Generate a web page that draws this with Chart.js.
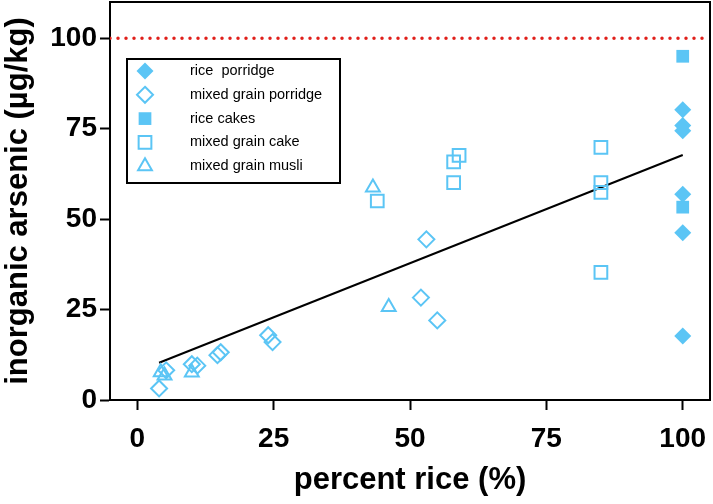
<!DOCTYPE html>
<html lang="en">
<head>
  <meta charset="UTF-8">
  <title>Inorganic arsenic vs percent rice</title>
  <style>
    body { margin: 0; padding: 0; background: #fff; }
    canvas { display: block; }
  </style>
</head>
<body>
  <canvas id="chart" width="713" height="504"></canvas>

  <script src="https://cdn.jsdelivr.net/npm/chart.js"></script>
  <script>
    // Data
    const ricePorridgeX = [100, 100, 100, 100, 100, 100];
    const ricePorridgeY = [80.2, 75.9, 74.4, 56.9, 46.2, 17.7];

    const mixedPorridgeX = [4, 5.3, 10, 11, 14.7, 15.3, 24, 24.8, 52, 53, 55];
    const mixedPorridgeY = [3.2, 8.2, 9.9, 9.5, 12.4, 13.2, 17.9, 16.0, 28.3, 44.4, 22.0];

    const riceCakesX = [100, 100];
    const riceCakesY = [95.0, 53.3];

    const mixedCakeX = [44, 58, 58, 59, 85, 85, 85, 85];
    const mixedCakeY = [55.0, 60.1, 65.8, 67.6, 69.8, 60.1, 57.4, 35.3];

    const musliX = [4.3, 5, 10, 43.2, 46.1];
    const musliY = [7.7, 6.8, 7.6, 58.7, 25.7];

    // fitted line, end points as drawn
    const fitX = [4, 100];
    const fitY = [10.3, 67.7];

    // limit line
    const limitX = [-5, 105];
    const limitY = [100, 100];

    const tickValues = [0, 25, 50, 75, 100];

    const blue = '#5bc5f5';
    const pts = (xs, ys) => xs.map((x, i) => ({ x: x, y: ys[i] }));

    const series = [
      { label: 'rice  porridge', style: 'rectRot', filled: true, x: ricePorridgeX, y: ricePorridgeY, r: 8.5 },
      { label: 'mixed grain porridge', style: 'rectRot', filled: false, x: mixedPorridgeX, y: mixedPorridgeY, r: 8 },
      { label: 'rice cakes', style: 'rect', filled: true, x: riceCakesX, y: riceCakesY, r: 9 },
      { label: 'mixed grain cake', style: 'rect', filled: false, x: mixedCakeX, y: mixedCakeY, r: 9 },
      { label: 'mixed grain musli', style: 'triangle', filled: false, x: musliX, y: musliY, r: 8 }
    ];

    const datasets = series.map(s => ({
      label: s.label,
      data: pts(s.x, s.y),
      pointStyle: s.style,
      pointRadius: s.r,
      pointBackgroundColor: s.filled ? blue : 'rgba(0,0,0,0)',
      pointBorderColor: blue,
      pointBorderWidth: s.filled ? 0 : 2
    }));

    datasets.push({
      type: 'line',
      label: 'fit',
      data: pts(fitX, fitY),
      borderColor: '#000',
      borderWidth: 2,
      pointRadius: 0
    });
    datasets.push({
      type: 'line',
      label: 'limit',
      data: pts(limitX, limitY),
      borderColor: '#e0201b',
      borderWidth: 3.5,
      borderDash: [0, 8],
      borderCapStyle: 'round',
      pointRadius: 0
    });

    const keepTicks = scale => {
      scale.ticks = scale.ticks.filter(t => tickValues.includes(t.value));
    };

    // top and right side of the frame
    const frame = {
      id: 'frame',
      afterDatasetsDraw(chart) {
        const { ctx, chartArea: a } = chart;
        ctx.save();
        ctx.strokeStyle = '#000';
        ctx.lineWidth = 2;
        ctx.beginPath();
        ctx.moveTo(a.left, a.top);
        ctx.lineTo(a.right, a.top);
        ctx.lineTo(a.right, a.bottom);
        ctx.stroke();
        ctx.restore();
      }
    };

    function drawMarker(ctx, s, x, y) {
      ctx.beginPath();
      if (s.style === 'rectRot') {
        ctx.moveTo(x, y - s.r); ctx.lineTo(x + s.r, y);
        ctx.lineTo(x, y + s.r); ctx.lineTo(x - s.r, y);
      } else if (s.style === 'rect') {
        const h = s.r * Math.SQRT1_2;
        ctx.rect(x - h, y - h, 2 * h, 2 * h);
      } else {
        const r = s.r;
        ctx.moveTo(x, y - r);
        ctx.lineTo(x + r * 0.866, y + r / 2);
        ctx.lineTo(x - r * 0.866, y + r / 2);
      }
      ctx.closePath();
      if (s.filled) { ctx.fillStyle = blue; ctx.fill(); }
      else { ctx.strokeStyle = blue; ctx.lineWidth = 2; ctx.stroke(); }
    }

    // boxed legend inside the plot
    const boxLegend = {
      id: 'boxLegend',
      afterDraw(chart) {
        const ctx = chart.ctx;
        ctx.save();
        ctx.fillStyle = '#fff';
        ctx.fillRect(127, 59, 213, 124);
        ctx.strokeStyle = '#000';
        ctx.lineWidth = 2;
        ctx.strokeRect(127, 59, 213, 124);
        series.forEach((s, i) => {
          const y = 71 + i * 23.8;
          drawMarker(ctx, s, 145, y);
          ctx.fillStyle = '#000';
          ctx.font = '14.5px Arial';
          ctx.textBaseline = 'middle';
          ctx.fillText(s.label, 190, y);
        });
        ctx.restore();
      }
    };

    const tickFont = { family: 'Arial', weight: 'bold', size: 28 };
    const titleFont = { family: 'Arial', weight: 'bold', size: 31 };

    new Chart(document.getElementById('chart'), {
      type: 'scatter',
      data: { datasets: datasets },
      options: {
        responsive: false,
        animation: false,
        layout: { autoPadding: false, padding: { top: 2, right: 3, left: 0, bottom: 0 } },
        plugins: {
          legend: { display: false },
          tooltip: { enabled: false }
        },
        scales: {
          x: {
            type: 'linear',
            min: -5,
            max: 105,
            afterBuildTicks: keepTicks,
            afterFit: s => { s.height = 104; s.paddingLeft = 0; s.paddingRight = 0; },
            ticks: { stepSize: 5, font: tickFont, color: '#000', padding: 12, maxRotation: 0 },
            grid: { drawOnChartArea: false, tickLength: 10, tickWidth: 2, tickColor: '#000' },
            border: { color: '#000', width: 2 },
            title: { display: true, text: 'percent rice (%)', font: titleFont, color: '#000', padding: { top: 0, bottom: 5 } }
          },
          y: {
            type: 'linear',
            min: 0,
            max: 110,
            afterBuildTicks: keepTicks,
            afterFit: s => { s.width = 110; s.paddingTop = 0; s.paddingBottom = 0; },
            ticks: { stepSize: 5, font: tickFont, color: '#000', padding: 3 },
            grid: { drawOnChartArea: false, tickLength: 10, tickWidth: 2, tickColor: '#000' },
            border: { color: '#000', width: 2 },
            title: { display: true, text: 'inorganic arsenic (µg/kg)', font: titleFont, color: '#000', padding: { top: 0, bottom: 0 } }
          }
        }
      },
      plugins: [frame, boxLegend]
    });
  </script>
</body>
</html>
